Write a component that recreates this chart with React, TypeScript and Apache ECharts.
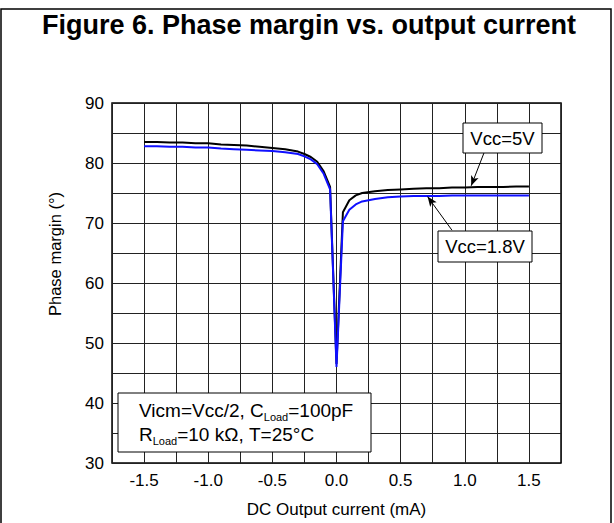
import React, { useEffect, useRef } from "react";
import * as echarts from "echarts";

const FONT = "'Liberation Sans', Arial, Helvetica, sans-serif";

const xValues = [
  -1.5, -1.4, -1.3, -1.2, -1.1, -1.0, -0.9, -0.8, -0.7, -0.6, -0.5, -0.4, -0.3, -0.25, -0.2, -0.15, -0.1,
  -0.05, 0, 0.05, 0.1, 0.15, 0.2, 0.3, 0.4, 0.5, 0.6, 0.7, 0.8, 0.9, 1.0, 1.1, 1.2, 1.3, 1.4, 1.5,
];
const vcc5V = [
  83.5, 83.5, 83.4, 83.4, 83.3, 83.3, 83.1, 83.0, 82.9, 82.7, 82.5, 82.3, 81.9, 81.5, 81.0, 80.2, 78.6,
  76.0, 46.5, 71.8, 73.8, 74.6, 75.0, 75.3, 75.5, 75.6, 75.7, 75.8, 75.8, 75.9, 75.9, 76.0, 76.0, 76.0, 76.1, 76.1,
];
const vcc18V = [
  82.8, 82.8, 82.7, 82.7, 82.6, 82.6, 82.4, 82.3, 82.2, 82.1, 82.0, 81.8, 81.5, 81.1, 80.6, 79.8, 78.2,
  75.6, 46.0, 70.3, 72.2, 73.1, 73.6, 74.0, 74.3, 74.4, 74.5, 74.5, 74.5, 74.6, 74.6, 74.6, 74.6, 74.6, 74.6, 74.6,
];
const seriesNames = ["Vcc=5V", "Vcc=1.8V"];
const arrow5V = [[1.15, 81.7], [1.05, 76.2]];
const arrow18V = [[0.9, 68.8], [0.71, 74.4]];

export default function App() {
  const ref = useRef<HTMLDivElement>(null);
  useEffect(() => {
    if (!ref.current) return;
    const chart = echarts.init(ref.current, null, { renderer: "svg" });
    const pairs = (ys: number[]) => xValues.map((x, i) => [x, ys[i]]);
    const arrowLine = (a: number[][]) => ({
      silent: true,
      symbol: ["none", "arrow"],
      symbolSize: [6, 10],
      label: { show: false },
      lineStyle: { color: "#000", width: 1, type: "solid" },
      data: [[{ coord: a[0] }, { coord: a[1] }]],
    });
    const Z = 100;
    chart.setOption({
      animation: false,
      backgroundColor: "#fff",
      grid: {
        left: 112,
        right: 53,
        top: 103,
        bottom: 58,
        show: true,
        borderColor: "#000",
        borderWidth: 1.5,
        backgroundColor: "transparent",
      },
      xAxis: {
        type: "value",
        min: -1.75,
        max: 1.75,
        interval: 0.25,
        name: "DC Output current (mA)",
        nameLocation: "middle",
        nameGap: 38,
        nameTextStyle: { fontFamily: FONT, fontSize: 17, color: "#000" },
        axisLine: { show: false },
        axisTick: { show: false },
        axisLabel: {
          fontFamily: FONT,
          fontSize: 17,
          color: "#000",
          margin: 9,
          formatter: (v: number) => {
            if (Math.abs(v) > 1.5 + 1e-9) return "";
            const k = v * 2;
            if (Math.abs(k - Math.round(k)) > 1e-6) return "";
            return v.toFixed(1);
          },
        },
        splitLine: { show: true, lineStyle: { color: "#222", width: 1 } },
      },
      yAxis: {
        type: "value",
        min: 30,
        max: 90,
        interval: 5,
        axisLine: { show: false },
        axisTick: { show: false },
        axisLabel: {
          fontFamily: FONT,
          fontSize: 17,
          color: "#000",
          margin: 8,
          formatter: (v: number) => (v % 10 === 0 ? String(v) : ""),
        },
        splitLine: { show: true, lineStyle: { color: "#222", width: 1 } },
      },
      series: [
        {
          name: seriesNames[0],
          type: "line",
          data: pairs(vcc5V),
          showSymbol: false,
          symbol: "none",
          lineStyle: { color: "#000", width: 2 },
          markLine: arrowLine(arrow5V),
          z: 3,
        },
        {
          name: seriesNames[1],
          type: "line",
          data: pairs(vcc18V),
          showSymbol: false,
          symbol: "none",
          lineStyle: { color: "#1010ff", width: 2 },
          markLine: arrowLine(arrow18V),
          z: 4,
        },
      ],
      graphic: [
        {
          type: "rect",
          z: Z,
          shape: { x: 1, y: 9, width: 610, height: 530 },
          style: { fill: "none", stroke: "#000", lineWidth: 1.5 },
          silent: true,
        },
        {
          type: "text",
          z: Z,
          x: 309,
          y: 25,
          style: {
            text: "Figure 6. Phase margin vs. output current",
            fontFamily: FONT,
            fontWeight: "bold",
            fontSize: 27,
            fill: "#000",
            align: "center",
            verticalAlign: "middle",
          },
        },
        {
          type: "text",
          z: Z,
          x: 55,
          y: 254,
          rotation: Math.PI / 2,
          style: {
            text: "Phase margin (°)",
            fontFamily: FONT,
            fontSize: 16.5,
            fill: "#000",
            align: "center",
            verticalAlign: "middle",
          },
        },
        {
          type: "rect",
          z: Z,
          shape: { x: 463, y: 123, width: 79, height: 30 },
          style: { fill: "#fff", stroke: "#000", lineWidth: 1 },
        },
        {
          type: "text",
          z: Z + 1,
          x: 502.5,
          y: 138.5,
          style: {
            text: seriesNames[0],
            fontFamily: FONT,
            fontSize: 18.5,
            fill: "#000",
            align: "center",
            verticalAlign: "middle",
          },
        },
        {
          type: "rect",
          z: Z,
          shape: { x: 438, y: 231, width: 94, height: 31 },
          style: { fill: "#fff", stroke: "#000", lineWidth: 1 },
        },
        {
          type: "text",
          z: Z + 1,
          x: 485,
          y: 246.5,
          style: {
            text: seriesNames[1],
            fontFamily: FONT,
            fontSize: 18.5,
            fill: "#000",
            align: "center",
            verticalAlign: "middle",
          },
        },
        {
          type: "rect",
          z: Z,
          shape: { x: 118, y: 393, width: 253, height: 59 },
          style: { fill: "#fff", stroke: "#000", lineWidth: 1 },
        },
        {
          type: "text",
          z: Z + 1,
          x: 139,
          y: 398,
          style: {
            text: "{n|Vicm=Vcc/2, C}{s|Load}{n|=100pF}\n{n|R}{s|Load}{n|=10 kΩ, T=25°C}",
            fontFamily: FONT,
            fill: "#000",
            align: "left",
            verticalAlign: "top",
            rich: {
              n: { fontFamily: FONT, fontSize: 19, lineHeight: 24, fill: "#000" },
              s: { fontFamily: FONT, fontSize: 11, lineHeight: 5, verticalAlign: "bottom", fill: "#000" },
            },
          },
        },
      ],
    });
    return () => chart.dispose();
  }, []);
  return (
    <div
      ref={ref}
      style={{ position: "fixed", left: 0, top: 0, width: 614, height: 523 }}
    />
  );
}
